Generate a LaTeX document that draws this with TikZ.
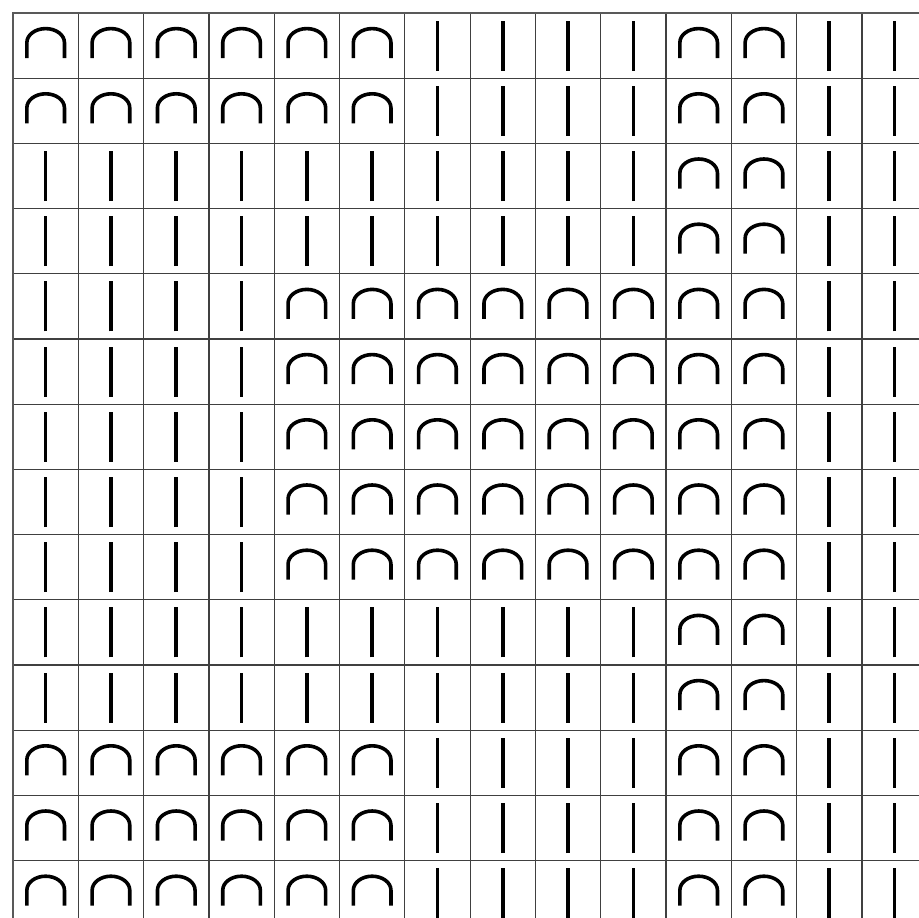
\documentclass[tikz,border=0pt]{standalone}
\begin{document}
\begin{tikzpicture}[x=1pt,y=1pt,
  gridline/.style={line width=1.2pt,draw=black!75},
  borderline/.style={line width=2.4pt,draw=black!65},
  sym/.style={line width=3.6pt,draw=black}]
\useasboundingbox (0,-918) rectangle (919,0);
\fill[white] (0,-918) rectangle (919,0);
\clip (0,-918) rectangle (919,0);
% grid
\foreach \k in {1,...,14} {
  \draw[gridline] ({13+65.3*\k},-13) -- ({13+65.3*\k},-930);
  \draw[gridline] (13,{-13-65.2*\k}) -- (930,{-13-65.2*\k});
}
\draw[borderline] (13,-930) -- (13,-13) -- (930,-13);
% symbols
\foreach \row [count=\r from 0] in {
  {A,A,A,A,A,A,B,B,B,B,A,A,B,B},
  {A,A,A,A,A,A,B,B,B,B,A,A,B,B},
  {B,B,B,B,B,B,B,B,B,B,A,A,B,B},
  {B,B,B,B,B,B,B,B,B,B,A,A,B,B},
  {B,B,B,B,A,A,A,A,A,A,A,A,B,B},
  {B,B,B,B,A,A,A,A,A,A,A,A,B,B},
  {B,B,B,B,A,A,A,A,A,A,A,A,B,B},
  {B,B,B,B,A,A,A,A,A,A,A,A,B,B},
  {B,B,B,B,A,A,A,A,A,A,A,A,B,B},
  {B,B,B,B,B,B,B,B,B,B,A,A,B,B},
  {B,B,B,B,B,B,B,B,B,B,A,A,B,B},
  {A,A,A,A,A,A,B,B,B,B,A,A,B,B},
  {A,A,A,A,A,A,B,B,B,B,A,A,B,B},
  {A,A,A,A,A,A,B,B,B,B,A,A,B,B}} {
  \foreach \s [count=\c from 0] in \row {
    \pgfmathsetmacro{\cx}{45.65+65.3*\c}
    \pgfmathsetmacro{\cy}{-(45.6+65.2*\r)}
    \if\s A
      \draw[sym] (\cx-18.8,\cy-12.5) -- (\cx-18.8,\cy+3)
        arc[start angle=180,end angle=0,x radius=18.8,y radius=14]
        -- (\cx+18.8,\cy-12.5);
    \else
      \draw[sym] (\cx,\cy-25) -- (\cx,\cy+25);
    \fi
  }
}
\end{tikzpicture}
\end{document}
